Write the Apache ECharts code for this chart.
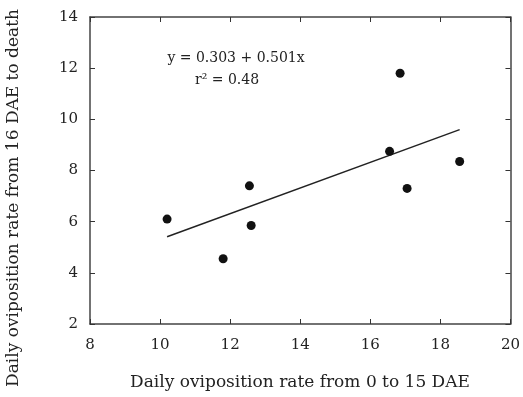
<!DOCTYPE html>
<html>
<head>
<meta charset="utf-8">
<script src="https://cdn.jsdelivr.net/npm/echarts@6/dist/echarts.min.js"></script>
<style>
  html, body { margin: 0; padding: 0; background: #fff; }
  #chart { width: 523px; height: 397px; }
</style>
</head>
<body>
<div id="chart"></div>
<script>
// rate 0-15 DAE vs rate 16 DAE to death
const rateEarly = [10.2, 11.8, 12.55, 12.6, 16.55, 16.85, 17.05, 18.55];
const rateLate = [6.1, 4.55, 7.4, 5.85, 8.75, 11.8, 7.3, 8.35];
const intercept = 0.303;
const slope = 0.501;
const xTicks = [8, 10, 12, 14, 16, 18, 20];
const yTicks = [2, 4, 6, 8, 10, 12, 14];

const font = 'DejaVu Serif';
const ink = '#222';

const points = rateEarly.map((x, i) => [x, rateLate[i]]);
const xLo = Math.min(...rateEarly);
const xHi = Math.max(...rateEarly);
const fitLine = [[xLo, intercept + slope * xLo], [xHi, intercept + slope * xHi]];

const myChart = echarts.init(document.getElementById('chart'));

const axisBase = {
  type: 'value',
  splitLine: { show: false },
  axisLine: { show: true, onZero: false, lineStyle: { color: '#444', width: 1.5 } },
  axisTick: { show: true, inside: true, length: 5, lineStyle: { color: '#333', width: 1 } },
};

myChart.setOption({
  animation: false,
  grid: { left: 90, top: 17, right: 8, bottom: 73 },
  xAxis: [
    {
      ...axisBase,
      position: 'bottom',
      min: xTicks[0],
      max: xTicks[xTicks.length - 1],
      interval: 2,
      axisLabel: { color: ink, fontFamily: font, fontSize: 15, margin: 14 },
    },
    {
      ...axisBase,
      position: 'top',
      min: xTicks[0],
      max: xTicks[xTicks.length - 1],
      interval: 2,
      axisLabel: { show: false },
    },
  ],
  yAxis: [
    {
      ...axisBase,
      position: 'left',
      min: yTicks[0],
      max: yTicks[yTicks.length - 1],
      interval: 2,
      axisLabel: { color: ink, fontFamily: font, fontSize: 15, margin: 12 },
    },
    {
      ...axisBase,
      position: 'right',
      min: yTicks[0],
      max: yTicks[yTicks.length - 1],
      interval: 2,
      axisLabel: { show: false },
    },
  ],
  graphic: [
    {
      type: 'text',
      x: 14,
      y: 198,
      rotation: Math.PI / 2,
      style: {
        text: 'Daily oviposition rate from 16 DAE to death',
        font: '17px "DejaVu Serif"',
        fill: ink,
        textAlign: 'center',
        textVerticalAlign: 'middle',
      },
    },
    {
      type: 'text',
      x: 300,
      y: 383,
      style: {
        text: 'Daily oviposition rate from 0 to 15 DAE',
        font: '17px "DejaVu Serif"',
        fill: ink,
        textAlign: 'center',
        textVerticalAlign: 'middle',
      },
    },
    {
      type: 'text',
      x: 236,
      y: 58,
      style: {
        text: 'y = 0.303 + 0.501x',
        font: '14px "DejaVu Serif"',
        fill: ink,
        textAlign: 'center',
        textVerticalAlign: 'middle',
      },
    },
    {
      type: 'text',
      x: 227,
      y: 80,
      style: {
        text: 'r² = 0.48',
        font: '14px "DejaVu Serif"',
        fill: ink,
        textAlign: 'center',
        textVerticalAlign: 'middle',
      },
    },
  ],
  series: [
    {
      type: 'line',
      data: fitLine,
      symbol: 'none',
      lineStyle: { color: '#222', width: 1.5 },
      z: 2,
    },
    {
      type: 'scatter',
      data: points,
      symbol: 'circle',
      symbolSize: 9,
      itemStyle: { color: '#111', opacity: 1 },
      z: 3,
    },
  ],
});
</script>
</body>
</html>
